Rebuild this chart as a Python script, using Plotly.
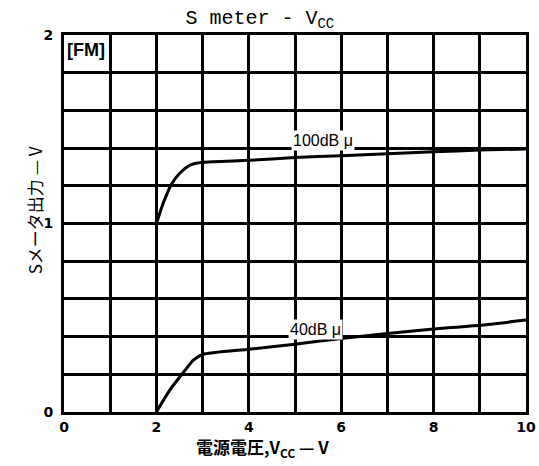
import plotly.graph_objects as go

# Data
vcc_100 = [2.0, 2.08, 2.15, 2.33, 2.5, 2.73, 3.0, 4, 5, 6, 7, 8, 9, 10]
s_100 = [1.0, 1.06, 1.11, 1.21, 1.265, 1.31, 1.325, 1.335, 1.35, 1.36, 1.37, 1.38, 1.39, 1.395]

vcc_40 = [2.0, 2.3, 2.6, 2.8, 3.0, 4, 5, 6, 7, 8, 9, 10]
s_40 = [0.0, 0.12, 0.215, 0.275, 0.305, 0.333, 0.36, 0.39, 0.417, 0.44, 0.46, 0.488]

x_ticks = [0, 1, 2, 3, 4, 5, 6, 7, 8, 9, 10]
x_ticktext = ["0", "", "2", "", "4", "", "6", "", "8", "", "10"]
y_ticks = [0, 0.2, 0.4, 0.6, 0.8, 1.0, 1.2, 1.4, 1.6, 1.8, 2.0]
y_ticktext = ["0", "", "", "", "", "1", "", "", "", "", "2"]

curve_labels = ["100dB \u03bc", "40dB \u03bc"]
label_x = [5.6, 5.45]
label_y = [1.44, 0.44]

fig = go.Figure()
fig.add_trace(go.Scatter(x=vcc_100, y=s_100, mode="lines",
                         line=dict(color="black", width=3, shape="spline", smoothing=0.6),
                         showlegend=False, hoverinfo="skip"))
fig.add_trace(go.Scatter(x=vcc_40, y=s_40, mode="lines",
                         line=dict(color="black", width=3, shape="spline", smoothing=0.6),
                         showlegend=False, hoverinfo="skip"))

for t, xx, yy in zip(curve_labels, label_x, label_y):
    fig.add_annotation(x=xx, y=yy, text=t, showarrow=False,
                       font=dict(family="Liberation Sans Narrow, Liberation Sans", size=16, color="black"),
                       bgcolor="white")

fig.add_annotation(x=0.03, y=1.92, text="[FM]", showarrow=False, xanchor="left",
                   font=dict(family="Liberation Sans Narrow, Liberation Sans", size=18, color="black", weight="bold"))

# axis titles as annotations for precise placement
fig.add_annotation(xref="paper", yref="paper", x=0.43, y=-0.095, yanchor="middle",
                   text="\u96fb\u6e90\u96fb\u5727,V<sub>CC</sub> \u2014 V", showarrow=False,
                   font=dict(family="Noto Sans CJK JP", size=17, color="black", weight="bold"))
fig.add_annotation(xref="paper", yref="paper", x=-0.062, y=0.536, xanchor="center", yanchor="middle",
                   textangle=-90, text="S\u30e1\u30fc\u30bf\u51fa\u529b \u2014 V", showarrow=False,
                   font=dict(family="Noto Sans CJK JP", size=17, color="black"))

fig.update_layout(
    width=539, height=466,
    margin=dict(l=64, r=13, t=35, b=54),
    paper_bgcolor="white", plot_bgcolor="white",
    title=dict(text="S meter - V<sub>CC</sub>", x=0.482, xanchor="center",
               y=1 - 17 / 466, yanchor="middle", yref="container",
               font=dict(family="Liberation Mono, DejaVu Sans Mono", size=20, color="black")),
    xaxis=dict(range=[0, 10], tickvals=x_ticks, ticktext=x_ticktext,
               showgrid=True, gridcolor="black", gridwidth=2.5,
               showline=True, linecolor="black", linewidth=3, mirror=True,
               zeroline=False, ticks="", ticklabelstandoff=0, automargin=False,
               tickfont=dict(family="DejaVu Sans", size=14, color="black", weight="bold")),
    yaxis=dict(range=[0, 2], tickvals=y_ticks, ticktext=y_ticktext,
               showgrid=True, gridcolor="black", gridwidth=2.5,
               showline=True, linecolor="black", linewidth=3, mirror=True,
               zeroline=False, ticks="", ticklabelstandoff=5, automargin=False,
               tickfont=dict(family="DejaVu Sans", size=14, color="black", weight="bold")),
)

fig.write_html("out.html")
